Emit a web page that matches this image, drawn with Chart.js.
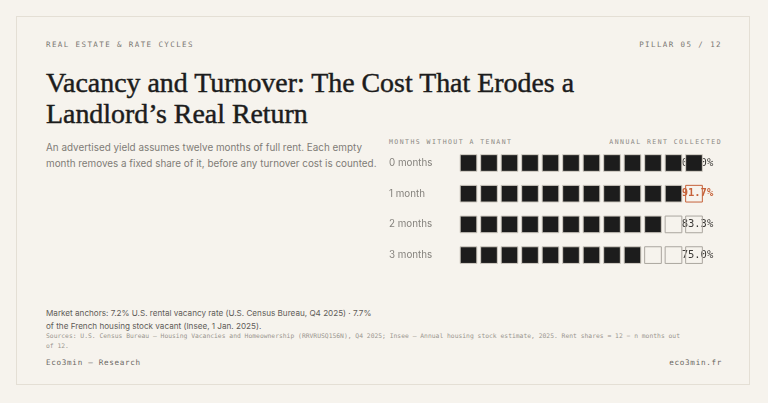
<!DOCTYPE html>
<html>
<head>
<meta charset="utf-8">
<script src="https://cdn.jsdelivr.net/npm/chart.js@4"></script>
<style>
  html, body { margin: 0; padding: 0; background: #f6f3ed; }
  body { width: 768px; height: 403px; position: relative; overflow: hidden; font-family: Inter, "Noto Sans", sans-serif; }
  .card { position: absolute; left: 16px; top: 16px; width: 734px; height: 369px; border: 1px solid #e4dfd5; box-sizing: border-box; }
  .mono { font-family: "DejaVu Sans Mono", "Liberation Mono", monospace; }
  .kicker { position: absolute; top: 40px; font-size: 7.5px; letter-spacing: 1.4px; color: #7a7773; }
  h1 { position: absolute; left: 46px; top: 67px; margin: 0; font-family: "Liberation Serif", serif; font-weight: 400; font-size: 27.9px; line-height: 31px; color: #1c1c1c; -webkit-text-stroke: 0.45px #1c1c1c; }
  .sub { position: absolute; left: 46px; top: 139px; width: 340px; font-size: 9.9px; line-height: 16px; color: #7f7c77; }
  .colhead { position: absolute; top: 138px; font-size: 6.5px; letter-spacing: 1.45px; color: #8a8782; }
  #wrap { position: absolute; left: 389px; top: 140px; width: 333px; height: 140px; }
  .anchors { position: absolute; left: 46px; top: 307px; font-size: 8.15px; line-height: 13px; color: #5f5c58; white-space: nowrap; }
  .sources { position: absolute; left: 46px; top: 331px; font-size: 6.35px; line-height: 10px; color: #9a968f; white-space: nowrap; }
  .foot { position: absolute; top: 358px; font-size: 7.6px; letter-spacing: 0.7px; color: #6a6763; }
</style>
</head>
<body>
<div class="card"></div>
<div class="kicker mono" style="left:46px">REAL ESTATE &amp; RATE CYCLES</div>
<div class="kicker mono" style="right:46px">PILLAR 05 / 12</div>
<h1>Vacancy and Turnover: The Cost That Erodes a<br>Landlord’s Real Return</h1>
<div class="sub">An advertised yield assumes twelve months of full rent. Each empty month removes a fixed share of it, before any turnover cost is counted.</div>
<div class="colhead mono" style="left:389px">MONTHS WITHOUT A TENANT</div>
<div class="colhead mono" style="right:46px">ANNUAL RENT COLLECTED</div>
<div id="wrap"><canvas id="grid"></canvas></div>
<div class="anchors">Market anchors: 7.2% U.S. rental vacancy rate (U.S. Census Bureau, Q4 2025) · 7.7%<br>of the French housing stock vacant (Insee, 1 Jan. 2025).</div>
<div class="sources mono">Sources: U.S. Census Bureau — Housing Vacancies and Homeownership (RRVRUSQ156N), Q4 2025; Insee — Annual housing stock estimate, 2025. Rent shares = 12 − n months out<br>of 12.</div>
<div class="foot mono" style="left:46px">Eco3min — Research</div>
<div class="foot mono" style="right:46px">eco3min.fr</div>

<script>
// données du graphique
const rowLabels = ['0 months', '1 month', '2 months', '3 months'];
const monthsVacant = [0, 1, 2, 3];
const rentCollected = [100.0, 91.7, 83.3, 75.0]; // % du loyer annuel
const monthsInYear = 12;
const highlightRow = 1;

const ink = '#1c1c1c';
const accent = '#c6623a';

// une case par mois, pleine si loué
const points = [];
const fills = [];
const strokes = [];
rowLabels.forEach((label, r) => {
  for (let m = 1; m <= monthsInYear; m++) {
    const rented = m <= monthsInYear - monthsVacant[r];
    points.push({ x: m, y: label });
    fills.push(rented ? ink : 'rgba(246,243,237,0)');
    strokes.push(rented ? '#d2cdc4' : (r === highlightRow ? accent : '#aaa69f'));
  }
});

// pourcentages à droite, dessinés sous les cases
const pctLabels = {
  id: 'pctLabels',
  beforeDatasetsDraw(chart) {
    const { ctx, chartArea, scales } = chart;
    ctx.save();
    ctx.textAlign = 'right';
    ctx.textBaseline = 'middle';
    rowLabels.forEach((label, r) => {
      const hi = r === highlightRow;
      ctx.font = (hi ? 'bold ' : '') + '10.5px "DejaVu Sans Mono", monospace';
      ctx.fillStyle = hi ? accent : '#3c3a37';
      ctx.fillText(rentCollected[r].toFixed(1) + '%', chartArea.right + 9, scales.y.getPixelForValue(r));
    });
    ctx.restore();
  }
};

const ctx = document.getElementById('grid').getContext('2d');
new Chart(ctx, {
  type: 'scatter',
  data: {
    datasets: [{
      data: points,
      pointStyle: 'rect',
      pointRadius: 11.8,
      pointBorderWidth: 1,
      backgroundColor: fills,
      borderColor: strokes
    }]
  },
  options: {
    responsive: true,
    maintainAspectRatio: false,
    animation: false,
    events: [],
    layout: { autoPadding: false, padding: { left: 0, right: 17.75, top: 7.65, bottom: 9.55 } },
    plugins: { legend: { display: false }, tooltip: { enabled: false } },
    scales: {
      x: { type: 'linear', min: 0.5, max: 12.5, display: false },
      y: {
        type: 'category',
        labels: rowLabels,
        offset: true,
        grid: { display: false },
        border: { display: false },
        ticks: {
          crossAlign: 'far',
          padding: 0,
          color: '#85827d',
          font: { family: 'Inter', size: 9.8 }
        },
        afterFit(scale) {
          scale.width = 69.25;
          scale.paddingTop = 0;
          scale.paddingBottom = 0;
        }
      }
    }
  },
  plugins: [pctLabels]
});
</script>
</body>
</html>
